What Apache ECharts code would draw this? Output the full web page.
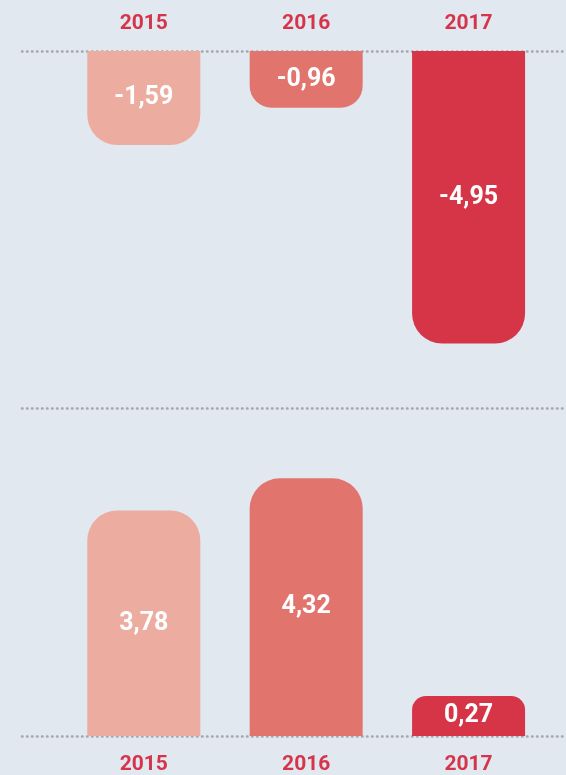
<!DOCTYPE html>
<html>
<head>
<meta charset="utf-8">
<script src="https://cdn.jsdelivr.net/npm/echarts@6/dist/echarts.min.js"></script>
<style>
	html, body { margin: 0; padding: 0; background: #e1e8f0; }
	#chart { width: 566px; height: 775px; }
</style>
</head>
<body>
<div id="chart"></div>
<script>
// years + values
const years = ['2015', '2016', '2017'];
const topValues = [-1.59, -0.96, -4.95];
const bottomValues = [3.78, 4.32, 0.27];
const barColors = ['#ecaca0', '#e1756d', '#d63548'];
const topRadius = [30, 22, 30];
const bottomRadius = [30, 30, 14];

const FONT = 'Roboto, sans-serif';
const dotted = { color: '#a5a8ad', width: 2.5, type: [0.5, 4.5], cap: 'round' };

function fmt(v) {
	return v.toFixed(2).replace('.', ',');
}

function buildData(values, radius, down) {
	return values.map(function (v, i) {
		return {
			value: [i, v],
			itemStyle: {
				color: barColors[i],
				borderRadius: down ? [0, 0, radius[i], radius[i]] : [radius[i], radius[i], 0, 0],
			},
		};
	});
}

function xAxisCfg(gridIndex, position, showLabel) {
	return {
		type: 'value',
		gridIndex: gridIndex,
		position: position,
		min: -0.75,
		max: 2.6,
		splitLine: { show: false },
		axisTick: { show: false },
		axisLine: { show: true, onZero: false, lineStyle: dotted },
		axisLabel: {
			show: showLabel,
			customValues: [0, 1, 2],
			margin: position === 'top' ? 17 : 18,
			color: '#d6344a',
			fontFamily: FONT,
			fontWeight: 'bold',
			fontSize: 21,
			formatter: function (v) {
				return years[Math.round(v)] || '';
			},
		},
	};
}

const chart = echarts.init(document.getElementById('chart'));
chart.setOption({
	backgroundColor: '#e1e8f0',
	animation: false,
	grid: [
		{ left: 22, right: 0, top: 51, height: 325 },
		{ left: 22, right: 0, top: 408, bottom: 39 },
	],
	xAxis: [
		xAxisCfg(0, 'top', true),
		xAxisCfg(1, 'bottom', true),
		xAxisCfg(1, 'top', false),
	],
	yAxis: [
		{ type: 'value', gridIndex: 0, min: -5.5, max: 0, show: false },
		{ type: 'value', gridIndex: 1, min: 0, max: 5.5, show: false },
	],
	series: [
		{
			type: 'bar',
			xAxisIndex: 0,
			yAxisIndex: 0,
			barWidth: 113,
			data: buildData(topValues, topRadius, true),
			label: {
				show: true,
				position: 'inside',
				color: '#fff',
				fontFamily: FONT,
				fontWeight: 'bold',
				fontSize: 25,
				formatter: function (p) { return fmt(p.value[1]); },
			},
		},
		{
			type: 'bar',
			xAxisIndex: 1,
			yAxisIndex: 1,
			barWidth: 113,
			barMinHeight: 40,
			data: buildData(bottomValues, bottomRadius, false),
			label: {
				show: true,
				position: 'inside',
				color: '#fff',
				fontFamily: FONT,
				fontWeight: 'bold',
				fontSize: 25,
				formatter: function (p) { return fmt(p.value[1]); },
			},
		},
	],
});
</script>
</body>
</html>
